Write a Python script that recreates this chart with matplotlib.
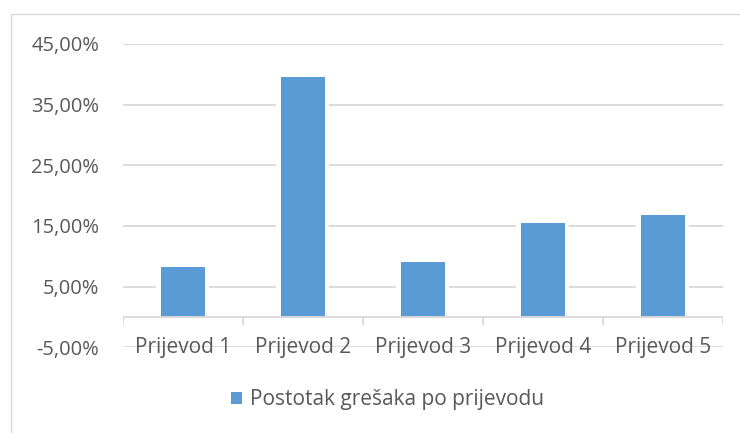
import matplotlib
matplotlib.use("Agg")
import matplotlib.pyplot as plt
from matplotlib.patches import Rectangle, Patch

categories = ["Prijevod 1", "Prijevod 2", "Prijevod 3", "Prijevod 4", "Prijevod 5"]
values = [8.2, 39.6, 9.0, 15.5, 16.8]
yticks = [-5, 5, 15, 25, 35, 45]
ytick_labels = ["-5,00%", "5,00%", "15,00%", "25,00%", "35,00%", "45,00%"]
series_name = "Postotak grešaka po prijevodu"

BAR = "#5B9BD5"
GRID = "#D9D9D9"
TXT = "#595959"

plt.rcParams['font.family'] = ['Open Sans', 'DejaVu Sans']

fig = plt.figure(figsize=(7.4, 4.33), dpi=100)
fig.patch.set_facecolor("white")
ax = fig.add_axes([122.7 / 740, 1 - 347.4 / 433, 600 / 740, (347.4 - 43.8) / 433])

x = list(range(len(categories)))
ax.set_xlim(-0.5, len(categories) - 0.5)
ax.set_ylim(-5, 45)

ax.set_yticks(yticks)
ax.set_yticklabels(ytick_labels)
ax.yaxis.grid(True, color=GRID, linewidth=1.3, zorder=0)
ax.set_axisbelow(True)
ax.tick_params(axis='y', length=0, pad=17, labelsize=14.5, labelcolor=TXT)
ax.set_xticks([])
for s in ax.spines.values():
    s.set_visible(False)

# white halo behind bars (gridline gaps)
ax.bar(x, values, width=0.44, color="white", zorder=1, linewidth=0)
ax.bar(x, values, width=0.37, color=BAR, zorder=2, linewidth=0, label=series_name)

# category axis at 0
ax.axhline(0, color=GRID, linewidth=1.3, zorder=3)
bounds = [i - 0.5 for i in range(len(categories) + 1)]
ax.vlines(bounds, -1.3, 0, color=GRID, linewidth=1.3, zorder=3)

for xi, c in zip(x, categories):
    ax.text(xi, -5, c, ha='center', va='center', fontsize=15, color=TXT, zorder=4)

handle = Patch(facecolor=BAR, edgecolor='none')
fig.legend([handle], [series_name], loc='center', bbox_to_anchor=(0.5238, 1 - 400 / 433),
           frameon=False, fontsize=15, labelcolor=TXT, handlelength=0.5, handleheight=0.5,
           handletextpad=0.4)

fig.patches.append(Rectangle((10.5 / 740, -0.1), 1.2, 1 - 14 / 433 + 0.1, transform=fig.transFigure,
                             facecolor='none', edgecolor=GRID, linewidth=1.0, clip_on=False))

fig.savefig("out.png", dpi=100, facecolor="white")
